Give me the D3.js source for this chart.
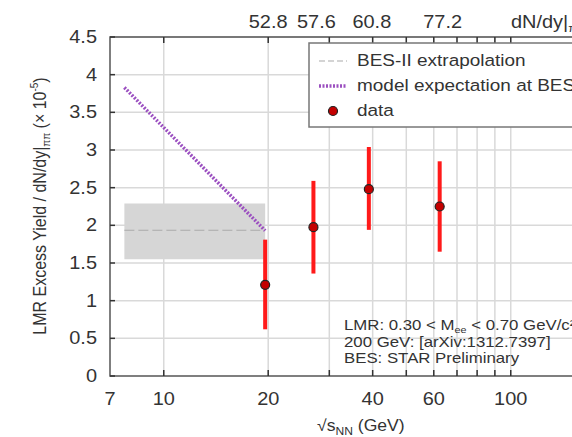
<!DOCTYPE html>
<html>
<head>
<meta charset="utf-8">
<script src="https://cdn.jsdelivr.net/npm/d3@7"></script>
<style>
  body { margin: 0; background: #fff; }
  svg { display: block; font-family: "Liberation Sans", Arial, sans-serif; }
</style>
</head>
<body>
<div id="container"></div>
<script>
// data
let energies = [19.6, 27, 39, 62.4]
let yields = [1.21, 1.975, 2.48, 2.25]
let errLow = [0.62, 1.36, 1.94, 1.65]
let errHigh = [1.81, 2.59, 3.04, 2.85]
let topLabels = ['52.8', '57.6', '60.8', '77.2']

let bandX = [7.7, 19.6]
let bandY = [1.55, 2.29]
let extrapY = 1.935
let modelX = [7.7, 19.6]
let modelY = [3.83, 1.93]

let xTickLabels = [7, 10, 20, 40, 60, 100]
let xGrid = [10, 20, 30, 40, 50, 60, 70, 80, 90, 100, 200]
let yTicks = [0, 0.5, 1, 1.5, 2, 2.5, 3, 3.5, 4, 4.5]
let legendLabels = ['BES-II extrapolation', 'model expectation at BES-II', 'data']
let notes = ['LMR: 0.30 < M', '200 GeV: [arXiv:1312.7397]', 'BES: STAR Preliminary']

let width = 572, height = 437
let plotLeft = 110, plotTop = 37, plotBottom = 376
let stretch = 1.14 // the picture's text is a bit wider than it is tall

let x = d3.scaleLog().domain([7, 300]).range([plotLeft, plotLeft + 347 * Math.log10(300 / 7)])
let y = d3.scaleLinear().domain([0, 4.5]).range([plotBottom, plotTop])
let plotRight = x(300)

let svg = d3.select('#container').append('svg')
  .attr('width', width).attr('height', height)

// horizontal text, stretched sideways around its anchor
function label(px, py, size, sx) {
  return svg.append('text')
    .attr('transform', `translate(${px},${py}) scale(${sx},1)`)
    .attr('font-size', size).attr('fill', '#333')
}

// grid
svg.selectAll('line.gx').data(xGrid).enter().append('line')
  .attr('x1', d => x(d)).attr('x2', d => x(d))
  .attr('y1', plotTop).attr('y2', plotBottom)
  .attr('stroke', '#d9d9d9').attr('stroke-width', 1.5)
svg.selectAll('line.gy').data(yTicks.slice(1)).enter().append('line')
  .attr('x1', plotLeft).attr('x2', plotRight)
  .attr('y1', d => y(d)).attr('y2', d => y(d))
  .attr('stroke', '#d9d9d9').attr('stroke-width', 1.5)

// BES-II band
svg.append('rect')
  .attr('x', x(bandX[0])).attr('y', y(bandY[1]))
  .attr('width', x(bandX[1]) - x(bandX[0]))
  .attr('height', y(bandY[0]) - y(bandY[1]))
  .attr('fill', '#d6d6d6')
svg.append('line')
  .attr('x1', x(bandX[0])).attr('x2', x(bandX[1]))
  .attr('y1', y(extrapY)).attr('y2', y(extrapY))
  .attr('stroke', '#aaa').attr('stroke-width', 1.2).attr('stroke-dasharray', '10,4')

// model expectation
svg.append('line')
  .attr('x1', x(modelX[0])).attr('y1', y(modelY[0]))
  .attr('x2', x(modelX[1])).attr('y2', y(modelY[1]))
  .attr('stroke', '#9b4fc0').attr('stroke-width', 3.5).attr('stroke-dasharray', '2,1.5')

// error bars + points
svg.selectAll('line.err').data(energies).enter().append('line')
  .attr('x1', d => x(d)).attr('x2', d => x(d))
  .attr('y1', (d, i) => y(errLow[i])).attr('y2', (d, i) => y(errHigh[i]))
  .attr('stroke', '#ff1a1a').attr('stroke-width', 4)
svg.selectAll('circle.pt').data(energies).enter().append('circle')
  .attr('cx', d => x(d)).attr('cy', (d, i) => y(yields[i]))
  .attr('r', 4.5)
  .attr('fill', '#c40000').attr('stroke', '#222').attr('stroke-width', 1.2)

// frame
svg.append('path')
  .attr('d', `M${width + 5},${plotTop}H${plotLeft}V${plotBottom}H${width + 5}`)
  .attr('fill', 'none').attr('stroke', '#555').attr('stroke-width', 1.5)

// ticks
svg.selectAll('line.tb').data(xGrid).enter().append('line')
  .attr('x1', d => x(d)).attr('x2', d => x(d))
  .attr('y1', plotBottom).attr('y2', plotBottom - 6)
  .attr('stroke', '#333').attr('stroke-width', 1.5)
svg.selectAll('line.tt').data(xGrid).enter().append('line')
  .attr('x1', d => x(d)).attr('x2', d => x(d))
  .attr('y1', plotTop).attr('y2', plotTop + 6)
  .attr('stroke', '#333').attr('stroke-width', 1.5)
svg.selectAll('line.ty').data(yTicks).enter().append('line')
  .attr('x1', plotLeft).attr('x2', plotLeft + 5)
  .attr('y1', d => y(d)).attr('y2', d => y(d))
  .attr('stroke', '#333').attr('stroke-width', 1.5)

// tick labels
xTickLabels.forEach(d => {
  label(x(d), 405, 17.5, stretch).attr('text-anchor', 'middle').text(d)
})
yTicks.forEach(d => {
  label(97, y(d) + 6, 17.5, stretch).attr('text-anchor', 'end').text(d)
})
energies.forEach((d, i) => {
  label(x(d) + 3, 28, 17.5, stretch).attr('text-anchor', 'middle').text(topLabels[i])
})
let tt = label(511, 28, 17.5, stretch)
tt.append('tspan').text('dN/dy|')
tt.append('tspan').attr('font-size', 11).attr('dy', 4).text('ππ')

// axis titles
let xt = label(317, 431, 16, 1.1)
xt.append('tspan').text('√s')
xt.append('tspan').attr('font-size', 11).attr('dy', 4).text('NN')
xt.append('tspan').attr('dy', -4).text(' (GeV)')

let yt = svg.append('text')
  .attr('transform', 'translate(46,206) rotate(-90) scale(1,1.12)')
  .attr('text-anchor', 'middle').attr('font-size', 16).attr('fill', '#333')
yt.append('tspan').text('LMR Excess Yield / dN/dy|')
yt.append('tspan').attr('font-size', 10).attr('dy', 4).text('ππ')
yt.append('tspan').attr('dy', -4).text(' (× 10')
yt.append('tspan').attr('font-size', 10).attr('dy', -7).text('-5')
yt.append('tspan').attr('dy', 7).text(')')

// legend
svg.append('rect')
  .attr('x', 309).attr('y', 43).attr('width', 300).attr('height', 84)
  .attr('fill', '#fff').attr('stroke', '#777').attr('stroke-width', 1.5)
svg.append('line').attr('x1', 319).attr('x2', 347).attr('y1', 61).attr('y2', 61)
  .attr('stroke', '#aaa').attr('stroke-width', 1.2).attr('stroke-dasharray', '6,3')
svg.append('line').attr('x1', 319).attr('x2', 347).attr('y1', 86).attr('y2', 86)
  .attr('stroke', '#9b4fc0').attr('stroke-width', 3.5).attr('stroke-dasharray', '2,1.5')
svg.append('circle').attr('cx', 333).attr('cy', 111).attr('r', 4.5)
  .attr('fill', '#c40000').attr('stroke', '#222').attr('stroke-width', 1.2)
legendLabels.forEach((d, i) => {
  label(357, 66 + i * 25, 16.5, 1.15).text(d)
})

// annotation
let n0 = label(344, 330, 14, 1.2)
n0.append('tspan').text(notes[0])
n0.append('tspan').attr('font-size', 9).attr('dy', 3).text('ee')
n0.append('tspan').attr('dy', -3).text(' < 0.70 GeV/c²')
notes.slice(1).forEach((d, i) => {
  label(344, 347 + i * 15.5, 14, 1.2).text(d)
})
</script>
</body>
</html>
